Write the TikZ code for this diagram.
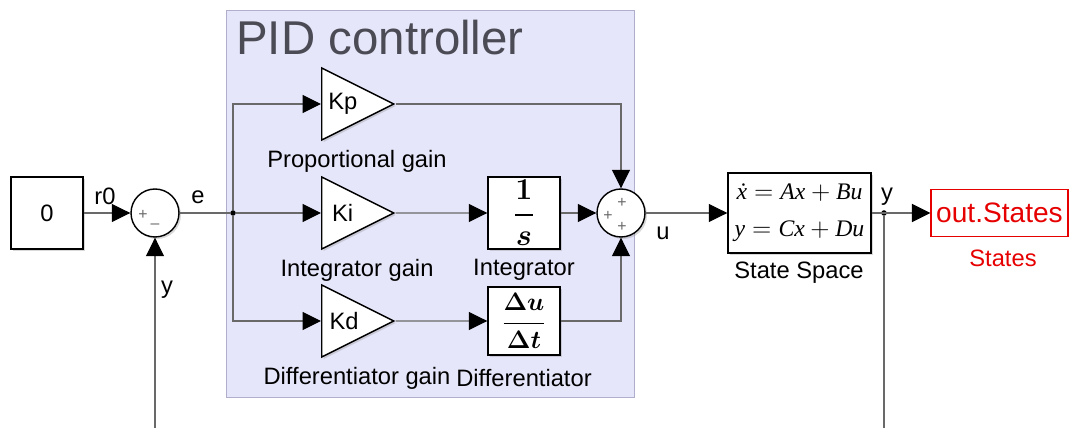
\documentclass[tikz,border=0pt]{standalone}
\usepackage[no-math]{fontspec}
\usepackage{amsmath,bm}
\setmainfont{Liberation Sans}
\newfontfamily\ssfont{Liberation Serif}
\usetikzlibrary{shapes.geometric,arrows.meta,positioning,shadows}
\definecolor{pidfill}{RGB}{230,230,250}
\definecolor{pidedge}{RGB}{175,175,205}
\definecolor{pidtext}{RGB}{75,75,85}
\definecolor{wirecol}{RGB}{105,105,105}
\definecolor{outred}{RGB}{230,0,0}
\newcommand{\blockfont}{\fontsize{13.5}{16}\selectfont}
\newcommand{\svar}[1]{\text{\ssfont\itshape #1}}

\begin{document}
\begin{tikzpicture}[x=0.02cm,y=-0.02cm,
    shade/.style={drop shadow={opacity=0.3,shadow xshift=0.04cm,shadow yshift=-0.04cm}},
    block/.style={draw,line width=0.8pt,fill=white,shade,inner sep=0pt,minimum width=1.44cm,minimum height=1.44cm,font=\blockfont},
    gain/.style={draw,line width=0.8pt,fill=white,shade,isosceles triangle,isosceles triangle stretches,shape border rotate=0,minimum width=1.44cm,minimum height=1.44cm,inner sep=0pt,anchor=west,font=\blockfont},
    sumnode/.style={draw,line width=0.8pt,fill=white,shade,circle,minimum size=0.96cm,inner sep=0pt},
    sign/.style={text=wirecol,font=\fontsize{9}{9}\selectfont,inner sep=0pt},
    dot/.style={circle,fill=black,inner sep=0pt,minimum size=0.11cm},
    lbl/.style={font=\blockfont,inner sep=0pt},
    wire/.style={draw=wirecol,line width=0.6pt},
    arrow/.style={-{Triangle[length=0.37cm,width=0.36cm,color=black]}}]
    \useasboundingbox (0,0) rectangle (1073,428);

    % Draw PID area
    \node[draw=pidedge,fill=pidfill,line width=0.6pt,minimum width=8.18cm,minimum height=7.76cm] (pid) at (430.5,204) {};
    \node[anchor=base west,text=pidtext,font=\fontsize{27}{30}\selectfont,inner sep=0pt] (pidtitle) at (236,55) {PID controller};

    % Draw blocks
    \node[block] (const) at (47,213) {0};
    \node[sumnode] (sum1) at (155,213) {};
    \node[sign] (s1p) at (143,215) {+};
    \node[sign] (s1m) at (155,226) {--};
    \node[dot] (edot) at (233,213) {};

    \node[gain] (kp) at (321,104) {Kp};
    \node[gain] (ki) at (321,213) {Ki};
    \node[gain] (kd) at (321,321) {Kd};

    \node[block,font=\fontsize{17}{20}\selectfont] (integ) at (524,213) {$\bm{\dfrac{1}{s}}$};
    \node[block,minimum height=1.36cm,font=\fontsize{14}{16}\selectfont] (diff) at (524,321) {$\bm{\dfrac{\Delta u}{\Delta t}}$};

    \node[sumnode] (sum2) at (621,213) {};
    \node[sign] (s2t) at (622,203) {+};
    \node[sign] (s2l) at (608,216) {+};
    \node[sign] (s2b) at (622,227) {+};

    \node[block,minimum width=2.86cm,minimum height=1.6cm,align=center,font=\fontsize{13.5}{16}\selectfont] (ss) at (799.5,213)
        {$\svar{\.x} = \svar{Ax} + \svar{Bu}$\\[5pt]$\svar{y} = \svar{Cx} + \svar{Du}$};
    \node[dot] (ydot) at (884,213) {};
    \node[draw=outred,line width=0.6pt,fill=white,text=outred,font=\fontsize{16}{18}\selectfont,inner sep=0pt,minimum width=2.74cm,minimum height=0.94cm] (outst) at (999.5,213) {out.States};

    % Label blocks and signals
    \node[lbl] (lr0) at (105,196) {r0};
    \node[lbl] (le) at (198,197) {e};
    \node[lbl] (ly1) at (167,290) {y};
    \node[lbl] (lkp) at (357,161) {Proportional gain};
    \node[lbl] (lki) at (357,270) {Integrator gain};
    \node[lbl] (lkd) at (357,378) {Differentiator gain};
    \node[lbl] (linteg) at (524,270) {Integrator};
    \node[lbl] (ldiff) at (524,378) {Differentiator};
    \node[lbl] (lu) at (663,233) {u};
    \node[lbl] (lss) at (799,273) {State Space};
    \node[lbl] (ly2) at (887,197) {y};
    \node[lbl,text=outred] (lout) at (1003,258) {States};

    % Draw signal lines
    \coordinate (fbin) at (155,428);
    \coordinate (fbout) at (884,428);
    \draw[wire,arrow] (const.east) -- (sum1.west);
    \draw[wire] (sum1.east) -- (edot);
    \draw[wire,arrow] (edot) -- (ki.west);
    \draw[wire,arrow] (edot) |- (kp.west);
    \draw[wire,arrow] (edot) |- (kd.west);
    \draw[wire,arrow] (ki.east) -- (integ.west);
    \draw[wire,arrow] (kd.east) -- (diff.west);
    \draw[wire,arrow] (kp.east) -| (sum2.north);
    \draw[wire,arrow] (integ.east) -- (sum2.west);
    \draw[wire,arrow] (diff.east) -| (sum2.south);
    \draw[wire,arrow] (sum2.east) -- (ss.west);
    \draw[wire,arrow] (ss.east) -- (outst.west);
    \draw[wire] (ydot) -- (fbout);
    \draw[wire,arrow] (fbin) -- (sum1.south);
\end{tikzpicture}
\end{document}
